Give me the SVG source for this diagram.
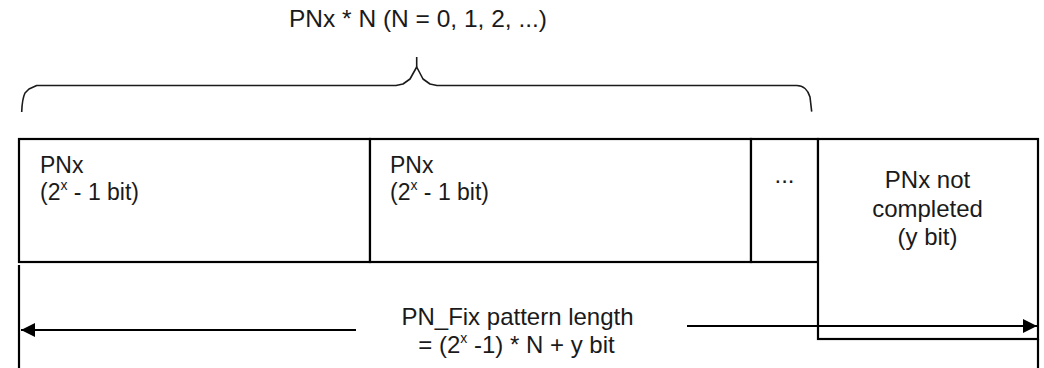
<svg xmlns="http://www.w3.org/2000/svg" width="1044" height="368" viewBox="0 0 1044 368">
  <style>
    .box { fill: #ffffff; stroke: #000000; stroke-width: 2.2; }
    .ln { fill: none; stroke: #000000; stroke-width: 2.2; }
    .brace { fill: none; stroke: #1a1a1a; stroke-width: 1.6; stroke-linejoin: round; }
    .t { font-family: "Liberation Sans", Arial, sans-serif; font-size: 24px; fill: #1a1a1a; }
    .s { font-size: 23px; }
    .sup { font-size: 14px; }
    .mid { text-anchor: middle; }
  </style>
  <defs>
    <marker id="arr" markerUnits="userSpaceOnUse" markerWidth="16" markerHeight="14" refX="14" refY="7" orient="auto">
      <path d="M0,0 L14,7 L0,14 z" fill="#000000"/>
    </marker>
  </defs>
  <rect width="1044" height="368" fill="#ffffff"/>

  <g id="title">
    <text class="t" x="289" y="27" style="font-size:24.5px">PNx * N (N = 0, 1, 2, ...)</text>
  </g>

  <g id="brace">
    <path class="brace" d="M21.7,112 C22,104 23,97 25,93 L29,89 L36.7,85.5 L396,85.5 L403,84 L410,79 L416.7,67 L423,79 L430,84 L437,85.5 L796.7,85.5 C803,85.5 808,90 810,97 L811.7,111.7"/>
    <path class="brace" d="M416.7,57 L416.7,67"/>
  </g>

  <g id="box1">
    <rect class="box" x="19" y="139" width="351" height="123"/>
    <text class="t s" x="40" y="173">PNx</text>
    <text class="t s" x="40" y="199.5">(2<tspan class="sup" dy="-10">x</tspan><tspan dy="10"> - 1 bit)</tspan></text>
  </g>

  <g id="box2">
    <rect class="box" x="370" y="139" width="381" height="123"/>
    <text class="t s" x="390" y="173">PNx</text>
    <text class="t s" x="390" y="199.5">(2<tspan class="sup" dy="-10">x</tspan><tspan dy="10"> - 1 bit)</tspan></text>
  </g>

  <g id="box3">
    <rect class="box" x="751" y="139" width="67" height="123"/>
    <text class="t mid" x="784.5" y="183">...</text>
  </g>

  <g id="box4">
    <rect class="box" x="818" y="139" width="220" height="200"/>
    <text class="t mid" x="927.5" y="188">PNx not</text>
    <text class="t mid" x="927.5" y="216.5">completed</text>
    <text class="t mid" x="927.5" y="245">(y bit)</text>
  </g>

  <g id="length-label">
    <text class="t mid" x="517.5" y="325">PN_Fix pattern length</text>
    <text class="t mid" x="516.5" y="353">= (2<tspan class="sup" dy="-10">x</tspan><tspan dy="10"> -1) * N + y bit</tspan></text>
  </g>

  <g id="connectors">
    <path class="ln" d="M19,265 L19,368"/>
    <path class="ln" d="M1038,339 L1038,368"/>
    <path class="ln" d="M356,330 L21,330" marker-end="url(#arr)"/>
    <path class="ln" d="M687,326 L1037,326" marker-end="url(#arr)"/>
  </g>
</svg>
